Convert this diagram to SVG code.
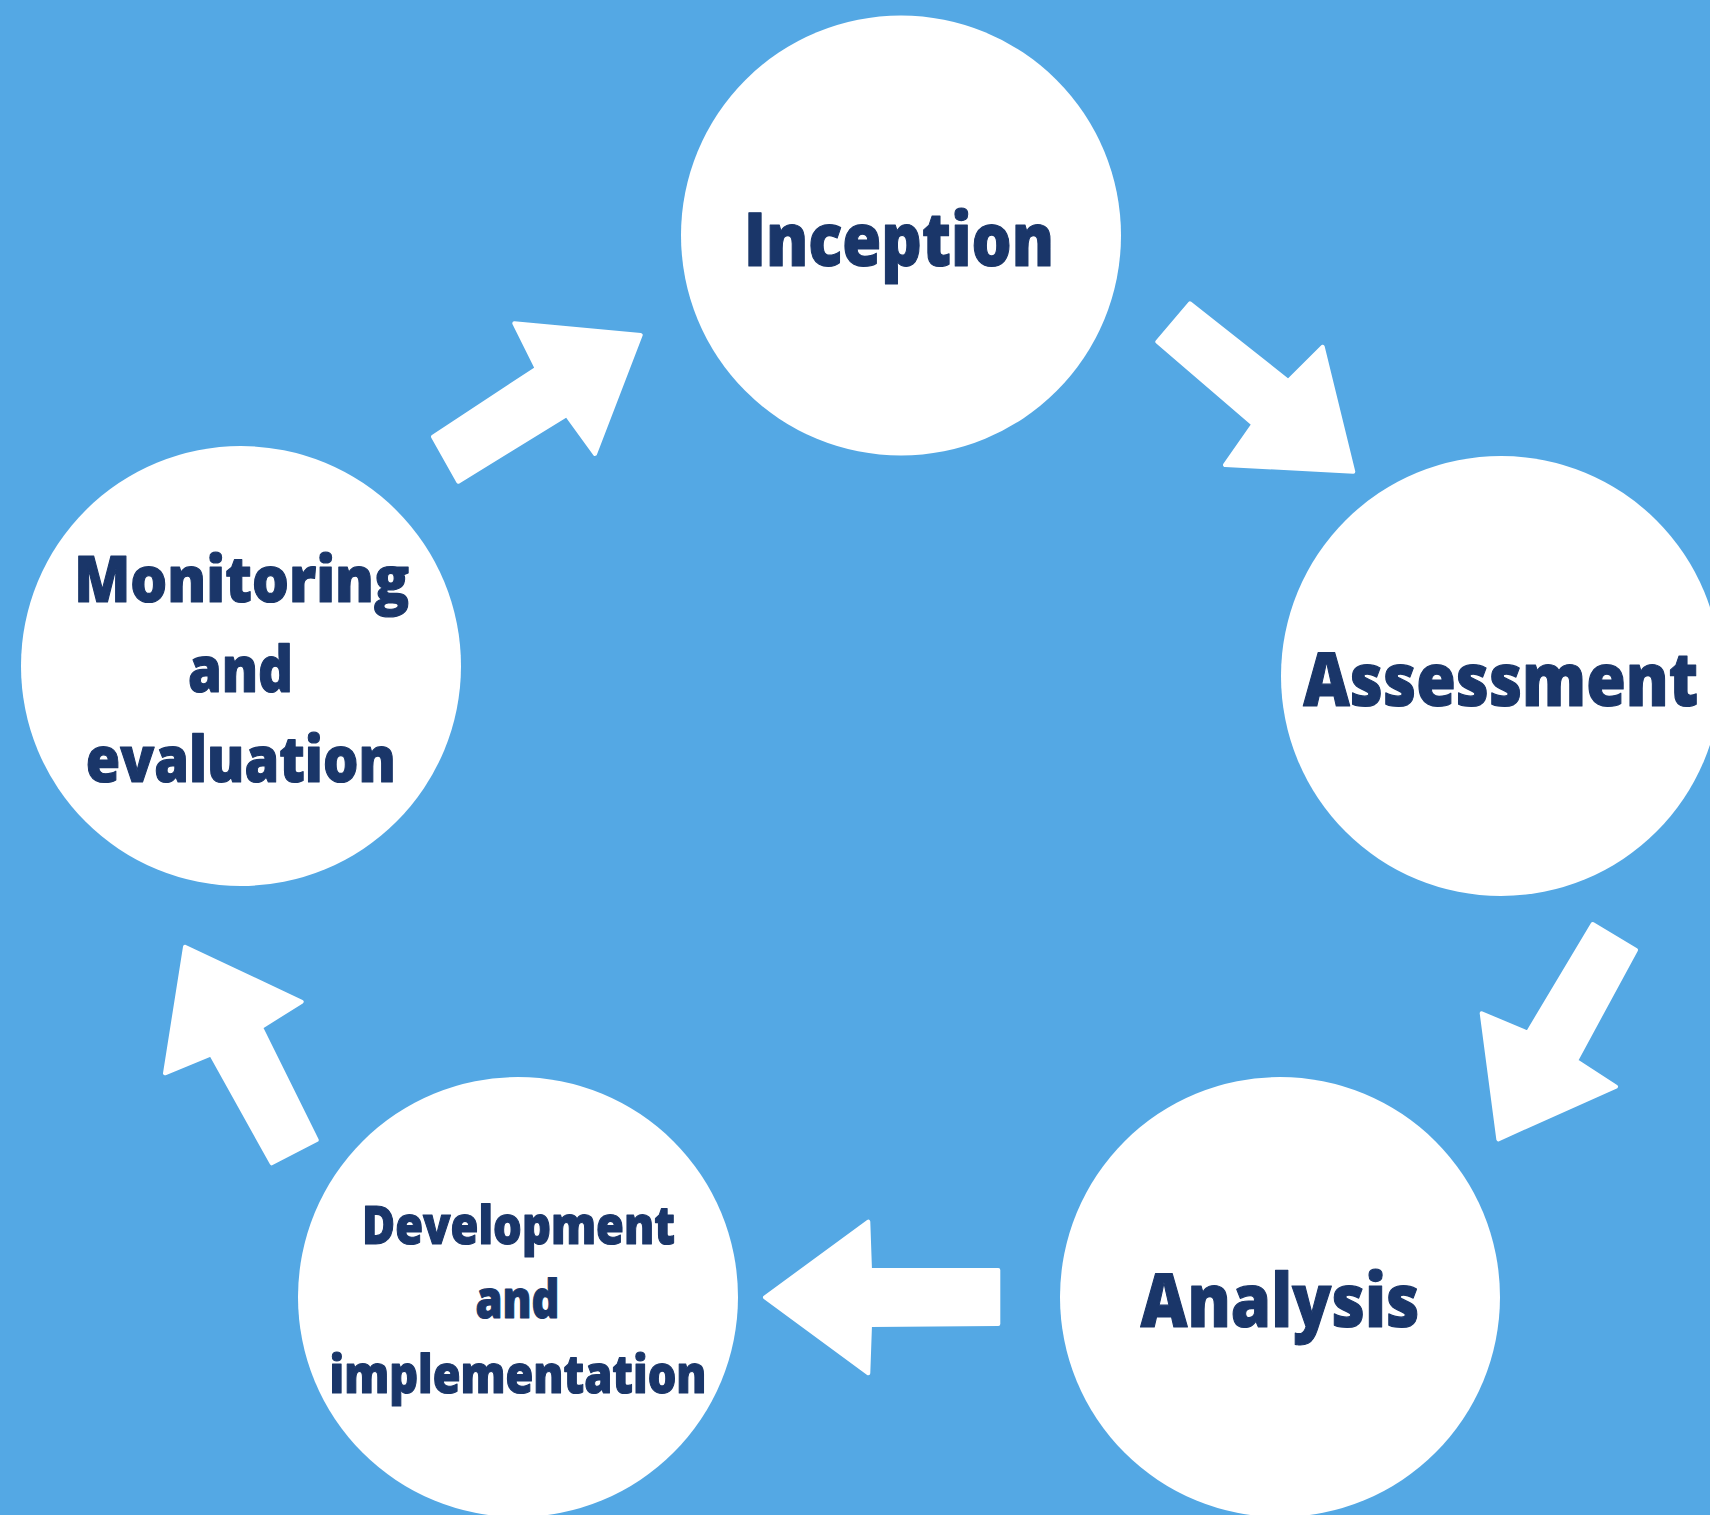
<svg xmlns="http://www.w3.org/2000/svg" width="1710" height="1515" viewBox="0 0 1710 1515">
<style>
.node{fill:#ffffff}
.lbl{font-family:"Open Sans",Lato,"Liberation Sans",sans-serif;font-weight:800;fill:#1a3669;stroke:#1a3669;stroke-width:1.2;stroke-linejoin:round;text-anchor:middle;font-variant-ligatures:none}
.arrow{fill:#ffffff;stroke:#ffffff;stroke-width:4;stroke-linejoin:round}
</style>
<rect x="0" y="0" width="1710" height="1515" fill="#54a8e4"/>
<g id="connectors">
<polygon class="arrow" points="433,436.7 458.3,481.7 566.7,415 595,454 640.7,335 514.3,323.3 536.7,368.3"/>
<polygon class="arrow" points="1190,303.3 1157.3,341.7 1253.3,424.3 1225,465 1353.3,471.7 1322.7,346.7 1288.3,381"/>
<polygon class="arrow" points="1592.7,924 1636,950 1576,1060.7 1616,1086.7 1498.3,1139.3 1481.7,1013.3 1527.7,1032.7"/>
<polygon class="arrow" points="765,1297.3 868.3,1221.7 870,1270 998.3,1270 998.3,1324 870,1325 868.3,1373.3"/>
<polygon class="arrow" points="185,946.7 301.7,1001.7 261,1027.3 316.7,1140 271.7,1163.3 211,1054.3 165,1073.3"/>
</g>
<g id="inception">
<circle class="node" cx="901" cy="235.5" r="220"/>
<text class="lbl" x="899" y="265.7" font-size="74" textLength="310" lengthAdjust="spacingAndGlyphs">Inception</text>
</g>
<g id="assessment">
<circle class="node" cx="1501" cy="676" r="220"/>
<text class="lbl" x="1500.8" y="705.7" font-size="74" textLength="395" lengthAdjust="spacingAndGlyphs">Assessment</text>
</g>
<g id="analysis">
<circle class="node" cx="1280" cy="1297" r="220"/>
<text class="lbl" x="1280" y="1327.3" font-size="74" textLength="279" lengthAdjust="spacingAndGlyphs">Analysis</text>
</g>
<g id="development">
<circle class="node" cx="518" cy="1297" r="220"/>
<text class="lbl" x="518.5" y="1244.3" font-size="52.5" textLength="313" lengthAdjust="spacingAndGlyphs">Development</text>
<text class="lbl" x="517.5" y="1318.3" font-size="52.5" textLength="84" lengthAdjust="spacingAndGlyphs">and</text>
<text class="lbl" x="518" y="1392.7" font-size="52.5" textLength="377" lengthAdjust="spacingAndGlyphs">implementation</text>
</g>
<g id="monitoring">
<circle class="node" cx="241" cy="666" r="220"/>
<text class="lbl" x="241.7" y="602.3" font-size="64" textLength="335" lengthAdjust="spacingAndGlyphs">Monitoring</text>
<text class="lbl" x="240.5" y="692.3" font-size="64" textLength="105" lengthAdjust="spacingAndGlyphs">and</text>
<text class="lbl" x="240.8" y="781.7" font-size="64" textLength="310" lengthAdjust="spacingAndGlyphs">evaluation</text>
</g>
</svg>
